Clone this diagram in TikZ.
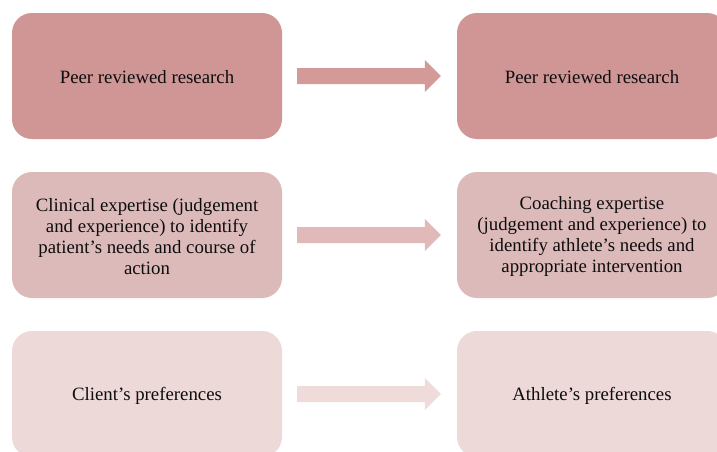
\documentclass[tikz,border=0pt]{standalone}
\usepackage{fontspec}
\setmainfont{Liberation Serif}
\usetikzlibrary{calc}
\definecolor{rowA}{RGB}{207,150,149}
\definecolor{rowB}{RGB}{221,186,186}
\definecolor{rowC}{RGB}{238,217,217}
\definecolor{arrA}{RGB}{212,154,152}
\definecolor{arrB}{RGB}{225,185,184}
\definecolor{arrC}{RGB}{240,219,219}
\tikzset{
  card/.style={rounded corners=20pt, minimum width=270pt, minimum height=126pt,
    align=center, inner sep=0pt,
    font=\fontsize{18.8}{21.2}\selectfont, text=black!95},
  label/.style={align=center, inner sep=0pt,
    font=\fontsize{18.8}{21.2}\selectfont, text=black!95},
}
% block arrow from the right side of #1 to the left side of #2
\newcommand{\blockarrow}[3]{%
  \fill[#3] ($(#1.east)+(15pt,8pt)$) -- ($(#2.west)+(-32pt,8pt)$)
    -- ($(#2.west)+(-32pt,16pt)$) -- ($(#2.west)+(-16pt,0pt)$)
    -- ($(#2.west)+(-32pt,-16pt)$) -- ($(#2.west)+(-32pt,-8pt)$)
    -- ($(#1.east)+(15pt,-8pt)$) -- cycle;}
\begin{document}
\begin{tikzpicture}[x=1pt,y=1pt]
\useasboundingbox (0,0) rectangle (717,-451);
\clip (0,0) rectangle (717,-451);
\fill[white] (0,0) rectangle (717,-451);

\node[card, fill=rowA] (l1) at (147,-76) {};
\node[card, fill=rowA] (r1) at (592,-76) {};
\node[card, fill=rowB] (l2) at (147,-235) {};
\node[card, fill=rowB] (r2) at (592,-235) {};
\node[card, fill=rowC] (l3) at (147,-394) {};
\node[card, fill=rowC] (r3) at (592,-394) {};

\node[label] (t1) at ($(l1.center)+(0,-1.5)$) {Peer reviewed research};
\node[label] (u1) at ($(r1.center)+(0,-1.5)$) {Peer reviewed research};
\node[label] (t2) at ($(l2.center)+(0,-1.5)$) {Clinical expertise (judgement\\and experience) to identify\\patient’s needs and course of\\action};
\node[label] (u2) at ($(r2.center)+(0,-1.5)$) {Coaching expertise\\(judgement and experience) to\\identify athlete’s needs and\\appropriate intervention};
\node[label] (t3) at ($(l3.center)+(0,-1.5)$) {Client’s preferences};
\node[label] (u3) at ($(r3.center)+(0,-1.5)$) {Athlete’s preferences};

\blockarrow{l1}{r1}{arrA}
\blockarrow{l2}{r2}{arrB}
\blockarrow{l3}{r3}{arrC}
\end{tikzpicture}
\end{document}
